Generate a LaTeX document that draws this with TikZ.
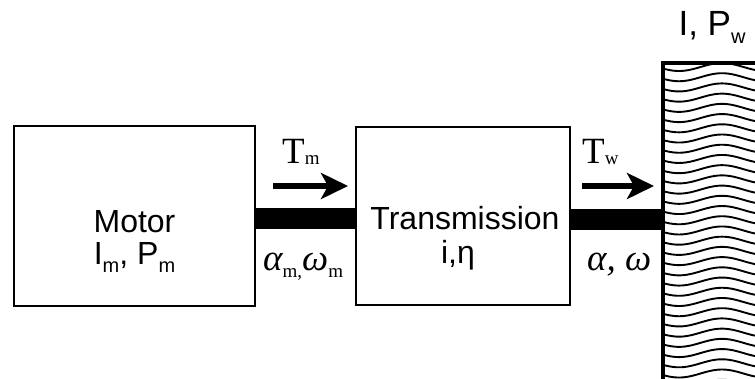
\documentclass[tikz,border=0pt]{standalone}
\usepackage{fontspec}
\setmainfont{Liberation Serif}
\newfontfamily\sansf{Liberation Sans}
\usetikzlibrary{arrows.meta}
\newcommand\ssub[1]{\raisebox{-8pt}{\fontsize{20}{20}\selectfont #1}}
\newcommand\tsub[1]{\raisebox{-1pt}{\fontsize{19}{19}\selectfont #1}}
\newcommand\gsub[1]{\raisebox{-7pt}{\fontsize{19}{19}\selectfont #1}}
\begin{document}
\begin{tikzpicture}[x=1pt,y=-1pt,
  block/.style={draw,line width=2.5pt,rectangle,inner sep=0pt},
  shaft/.style={line width=21pt,draw=black},
  torque/.style={line width=5.5pt,-{Stealth[length=27pt,width=26pt,inset=7pt]}},
  wave/.style={line width=1.9pt},
  sanslab/.style={inner sep=0pt,anchor=base,font=\sansf\fontsize{32}{38}\selectfont},
  seriflab/.style={inner sep=0pt,anchor=base west,font=\fontsize{37}{40}\selectfont},
  greeklab/.style={inner sep=0pt,anchor=base west,font=\itshape\fontsize{37}{40}\selectfont}]
\clip (0,0) rectangle (755,378);
\fill[white] (0,0) rectangle (755,378);
% blocks
\node[block,minimum width=241pt,minimum height=180pt] (motor) at (134.5,216) {};
\node[block,minimum width=214pt,minimum height=178pt] (trans) at (463,216) {};
\node[block,minimum width=140pt,minimum height=360pt,anchor=north west] (wall) at (662,62) {};
% waves in the wall
\begin{scope}
\clip (663.5,63.5) rectangle (760,390);
\foreach \k in {0,...,31}{
  \draw[wave] plot[domain=660:760,samples=101] (\x,{67+10.217*\k-4*cos((\x-722)*4.186)});
}
\end{scope}
\draw[line width=2.5pt] (wall.south west) -- (wall.north west) -- (wall.north east);
% shafts
\draw[shaft] ([yshift=-2.5pt]motor.east) -- ([yshift=-2.5pt]trans.west);
\draw[shaft] ([yshift=-3pt]trans.east) -- ([yshift=-3pt]trans.east -| wall.west);
% torque arrows
\coordinate (a1s) at (273,186);
\coordinate (a1e) at (348,186);
\coordinate (a2s) at (582,186);
\coordinate (a2e) at (654,186);
\draw[torque] (a1s) -- (a1e);
\draw[torque] (a2s) -- (a2e);
% labels
\node[sanslab] (mot1) at (134.5,232) {Motor};
\node[sanslab] (mot2) at (134.5,264) {I\ssub{m}, P\ssub{m}};
\node[sanslab] (tr1) at (465,229) {Transmission};
\node[sanslab] (tr2) at (458,263) {i,η};
\node[inner sep=0pt,anchor=base,font=\sansf\fontsize{35}{40}\selectfont] (wl) at (712,35) {I, P\ssub{w}};
\node[seriflab] (tm) at (282,163) {T\tsub{m}};
\node[seriflab] (tw) at (582,163) {T\tsub{w}};
\node[greeklab] (am) at (263,270) {α\gsub{\upshape m,}ω\gsub{\upshape m}};
\node[greeklab] (aw) at (587,270) {α, ω};
\end{tikzpicture}
\end{document}
